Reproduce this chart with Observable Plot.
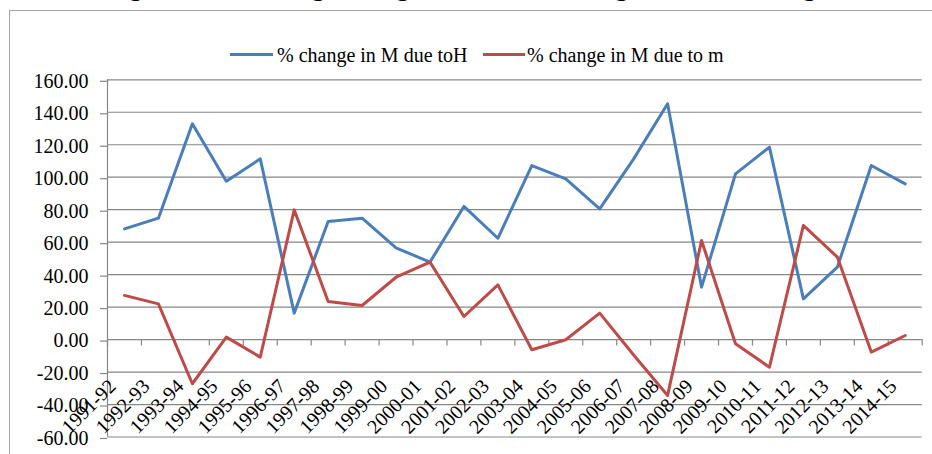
<!DOCTYPE html>
<html>
<head>
<meta charset="utf-8">
<script src="https://cdn.jsdelivr.net/npm/d3@7"></script>
<script src="https://cdn.jsdelivr.net/npm/@observablehq/plot@0.6"></script>
<style>
  body { margin: 0; background: #fff; }
  #wrap { position: relative; width: 932px; height: 454px; overflow: hidden; background: #fff;
          font-family: "Liberation Serif", "Times New Roman", serif; color: #000; }
  #title { position: absolute; left: 0; width: 990px; top: -25px; text-align: center; font-weight: bold;
           font-size: 26px; line-height: 26px; white-space: nowrap; }
  #frame { position: absolute; left: 9px; top: 10px; width: 980px; height: 500px; border: 1px solid #a6a6a6; }
  .sw { position: absolute; height: 3px; top: 53px; }
  .lt { position: absolute; top: 45px; font-size: 20px; line-height: 20px; white-space: nowrap; }
  #chart { position: absolute; left: 0; top: 0; }
  #chart svg, #chart svg text { font-family: "Liberation Serif", "Times New Roman", serif !important; }
</style>
</head>
<body>
<div id="wrap">
  <div id="title">Figure 3: Percentage change in M due to change in H and change in m</div>
  <div id="frame"></div>
  <div id="chart"></div>
  <div class="sw" style="left:230px;width:43px;background:#4A7EBB"></div>
  <div class="lt" style="left:277px">% change in M due toH</div>
  <div class="sw" style="left:483px;width:42px;background:#BE4B48"></div>
  <div class="lt" style="left:527px">% change in M due to m</div>
</div>
<script>
const categories = ["1991-92","1992-93","1993-94","1994-95","1995-96","1996-97","1997-98","1998-99",
  "1999-00","2000-01","2001-02","2002-03","2003-04","2004-05","2005-06","2006-07","2007-08","2008-09",
  "2009-10","2010-11","2011-12","2012-13","2013-14","2014-15"];
const dueToH = [68.2, 74.8, 132.9, 97.5, 111.3, 16.3, 72.7, 74.8, 56.5, 47.7, 82.0, 62.4,
  107.2, 99.0, 80.5, 111.3, 145.2, 32.3, 102.1, 118.5, 25.1, 44.6, 107.2, 95.9];
const dueToM = [27.2, 22.0, -27.2, 1.5, -10.8, 79.9, 23.5, 21.0, 38.4, 47.7, 14.2, 33.7,
  -6.3, -0.1, 16.3, -9.5, -34.4, 61.0, -2.6, -17.0, 70.3, 50.8, -7.7, 2.5];
const seriesNames = ["% change in M due toH", "% change in M due to m"];
const seriesColors = ["#4A7EBB", "#BE4B48"];
const yTicks = [-60, -40, -20, 0, 20, 40, 60, 80, 100, 120, 140, 160];

const rows = [
  ...categories.map((c, i) => ({i, cat: c, v: dueToH[i], s: seriesNames[0]})),
  ...categories.map((c, i) => ({i, cat: c, v: dueToM[i], s: seriesNames[1]}))
];
const boundaries = d3.range(categories.length + 1).map(k => k - 0.5);
const grid = "#878787";
const serif = "Liberation Serif";

const chart = Plot.plot({
  width: 932,
  height: 454,
  marginLeft: 107,
  marginRight: 10.3,
  marginTop: 79.3,
  marginBottom: 17.5,
  style: {fontSize: "20px", background: "transparent", overflow: "visible", color: "#000"},
  x: {type: "linear", domain: [-0.5, categories.length - 0.5], axis: null},
  y: {domain: [-60, 160], axis: null},
  color: {domain: seriesNames, range: seriesColors},
  marks: [
    Plot.gridY(yTicks, {stroke: grid, strokeOpacity: 1, strokeWidth: 1.2}),
    Plot.axisY(yTicks, {anchor: "left", tickSize: 7, tickPadding: 12, stroke: grid, strokeWidth: 1.2,
      tickFormat: d => d.toFixed(2), fontSize: 20, fontFamily: serif, fill: "#000", dy: 1.5, label: null}),
    Plot.ruleX([-0.5], {stroke: grid, strokeWidth: 1.2}),
    Plot.ruleX(boundaries, {y1: 0, y2: -4, stroke: grid, strokeWidth: 1.2}),
    Plot.text(categories, {x: (d, i) => i, frameAnchor: "bottom", dx: -12, dy: -54, rotate: -45,
      textAnchor: "end", lineAnchor: "middle", fontSize: 20, fontFamily: serif, fill: "#000"}),
    Plot.line(rows.filter(r => r.s === seriesNames[0]), {x: "i", y: "v", stroke: "s", strokeWidth: 3, strokeLinejoin: "round"}),
    Plot.line(rows.filter(r => r.s === seriesNames[1]), {x: "i", y: "v", stroke: "s", strokeWidth: 3, strokeLinejoin: "round"})
  ]
});
document.getElementById("chart").appendChild(chart);
</script>
</body>
</html>
